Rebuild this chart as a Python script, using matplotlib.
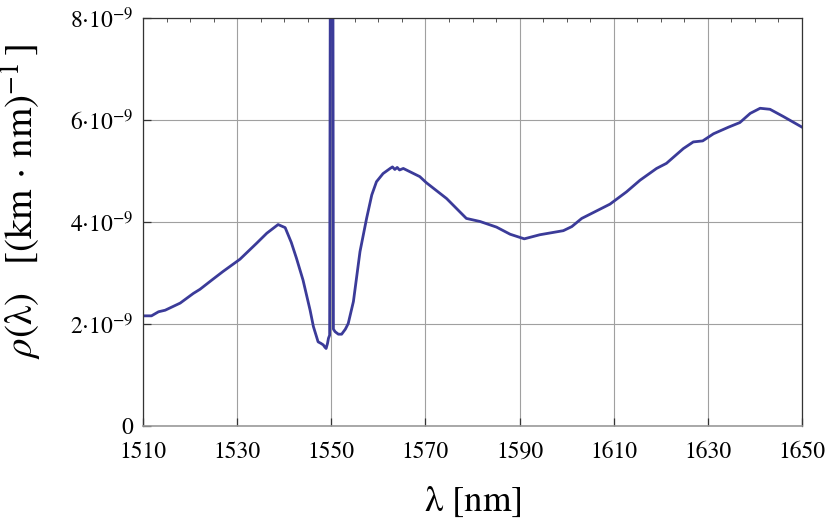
import matplotlib
matplotlib.use("Agg")
import matplotlib.pyplot as plt

plt.rcParams['font.family'] = ['STIXGeneral', 'DejaVu Serif']
plt.rcParams['mathtext.fontset'] = 'stix'

# wavelength (nm) and rho (units of 1e-9 per km*nm)
wavelength = [1510.0, 1511.8, 1513.3, 1514.7, 1517.9, 1520.7, 1522.1, 1524.6, 1527.0,
              1530.6, 1534.1, 1536.3, 1538.7, 1540.2, 1541.5, 1542.6, 1544.0, 1545.5,
              1546.2, 1547.2, 1547.8, 1548.3, 1548.6, 1548.9, 1549.2, 1549.4, 1549.65,
              1549.85, 1550.3, 1550.45, 1550.8, 1551.5, 1552.2, 1553.0, 1553.6, 1554.7,
              1556.1, 1557.5, 1558.6, 1559.6, 1561.0, 1562.5, 1563.0, 1563.5, 1564.0,
              1564.5, 1565.3, 1568.8, 1570.2, 1574.5, 1578.7, 1581.6, 1585.1, 1588.0,
              1591.0, 1594.3, 1599.3, 1601.1, 1603.2, 1609.2, 1612.7, 1615.6, 1619.1,
              1621.2, 1624.8, 1626.9, 1628.9, 1631.2, 1634.4, 1636.8, 1639.0, 1641.1,
              1643.2, 1646.0, 1650.0]
rho = [2.16, 2.16, 2.24, 2.27, 2.41, 2.60, 2.68, 2.86, 3.03,
       3.27, 3.58, 3.78, 3.95, 3.89, 3.60, 3.29, 2.86, 2.27,
       1.95, 1.65, 1.62, 1.59, 1.55, 1.52, 1.62, 1.72, 1.78,
       12.0, 12.0, 1.90, 1.85, 1.80, 1.80, 1.90, 2.01, 2.44,
       3.42, 4.07, 4.53, 4.79, 4.95, 5.05, 5.08, 5.03, 5.07,
       5.02, 5.05, 4.89, 4.77, 4.46, 4.07, 4.01, 3.90, 3.76,
       3.67, 3.75, 3.83, 3.91, 4.07, 4.35, 4.59, 4.82, 5.05,
       5.15, 5.44, 5.57, 5.59, 5.73, 5.86, 5.95, 6.13, 6.23,
       6.21, 6.07, 5.86]

x_major = [1510, 1530, 1550, 1570, 1590, 1610, 1630, 1650]
y_major = [0, 2, 4, 6, 8]
y_labels = ['0', r'$2{\cdot}10^{-9}$', r'$4{\cdot}10^{-9}$', r'$6{\cdot}10^{-9}$', r'$8{\cdot}10^{-9}$']

fig = plt.figure(figsize=(8.30, 5.26), dpi=100)
ax = fig.add_axes([143/830, 1-426/526, (802-143)/830, (426-18)/526])

ax.plot(wavelength, [v * 1e-9 for v in rho], color='#3b3b99', lw=2.0, solid_joinstyle='round')

ax.set_xlim(1510, 1650)
ax.set_ylim(0, 8e-9)
ax.set_xticks(x_major)
ax.set_xticklabels([str(v) for v in x_major])
ax.set_yticks([v * 1e-9 for v in y_major])
ax.set_yticklabels(y_labels)

ax.grid(True, which='major', color='#a0a0a0', lw=0.8)
ax.tick_params(axis='both', which='major', direction='in', length=6, width=0.9,
               labelsize=17, color='#333333')
ax.tick_params(axis='x', which='major', top=False, pad=11)
ax.tick_params(axis='y', which='major', pad=7)

# minor ticks on top edge only
ax_top = ax.secondary_xaxis('top')
ax_top.set_xticks([v for v in range(1515, 1650, 5) if v not in x_major])
ax_top.tick_params(direction='in', length=3, width=0.7, color='#555555', labeltop=False)
ax_top.set_xticklabels([])
ax_top.spines['top'].set_visible(False)

for s in ['left', 'right', 'top']:
    ax.spines[s].set_color('#333333')
    ax.spines[s].set_linewidth(0.9)
ax.spines['bottom'].set_color('#999999')
ax.spines['bottom'].set_linewidth(1.2)

ax.set_xlabel(r'$\mathrm{\lambda}$ [nm]', fontsize=26.5, labelpad=16)
ax.set_ylabel(r'$\rho(\mathrm{\lambda})\ \ \ [(\mathrm{km}\,\cdot\,\mathrm{nm})^{-1}\,]$', fontsize=28)
ax.yaxis.set_label_coords(-0.15, 0.55)

fig.savefig('out.png', dpi=100)
